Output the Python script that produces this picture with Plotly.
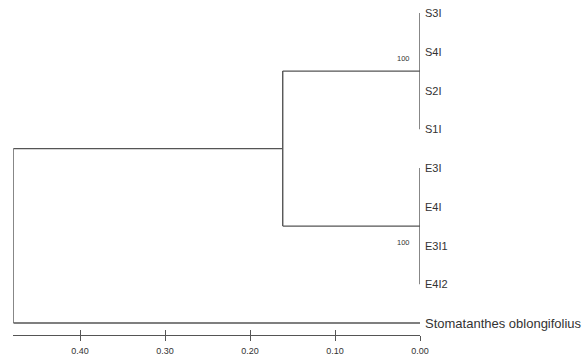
import plotly.graph_objects as go

# ---- data ----
leaf_labels = ["S3I", "S4I", "S2I", "S1I", "E3I", "E4I", "E3I1", "E4I2",
               "Stomatanthes oblongifolius"]
s_clade = [0, 1, 2, 3]          # leaf indices
e_clade = [4, 5, 6, 7]
outgroup = 8
s_node_height = 0.0
e_node_height = 0.0
ingroup_height = 0.1615
root_height = 0.4785
bootstrap_values = [100, 100]   # S clade, E clade
scale_ticks = [0.40, 0.30, 0.20, 0.10, 0.00]

LINE = "#555555"
TEXT = "#333333"
FONT = "Liberation Sans, Arial, sans-serif"

W, H = 587, 360
x_left_px, x_zero_px = 13.3, 420.0
y_first_px, y_step_px = 13.0, 38.75
axis_y_px = 335.0

# ---- build tree segments ----
s_mid = sum(s_clade) / len(s_clade)
e_mid = sum(e_clade) / len(e_clade)
in_mid = (s_mid + e_mid) / 2

segs = [
    ((s_node_height, s_clade[0]), (s_node_height, s_clade[-1])),
    ((e_node_height, e_clade[0]), (e_node_height, e_clade[-1])),
    ((s_node_height, s_mid), (ingroup_height, s_mid)),
    ((e_node_height, e_mid), (ingroup_height, e_mid)),
    ((ingroup_height, s_mid), (ingroup_height, e_mid)),
    ((ingroup_height, in_mid), (root_height, in_mid)),
    ((0.0, outgroup), (root_height, outgroup)),
    ((root_height, in_mid), (root_height, outgroup)),
]
xs, ys = [], []
for (x0, y0), (x1, y1) in segs:
    xs += [x0, x1, None]
    ys += [y0, y1, None]

fig = go.Figure()
fig.add_trace(go.Scatter(x=xs, y=ys, mode="lines",
                         line=dict(color=LINE, width=1.4),
                         hoverinfo="skip", showlegend=False, cliponaxis=False))

# leaf labels
for i, lab in enumerate(leaf_labels):
    size = 13 if i == outgroup else 11
    fig.add_annotation(x=0.0, y=i, xref="x", yref="y", text=lab,
                       showarrow=False, xanchor="left", yanchor="middle",
                       xshift=3, font=dict(family=FONT, size=size, color=TEXT))

# bootstrap labels
fig.add_annotation(x=s_node_height, y=s_mid, xref="x", yref="y",
                   text=str(bootstrap_values[0]), showarrow=False,
                   xanchor="right", yanchor="middle", xshift=-8, yshift=13,
                   font=dict(family=FONT, size=7.5, color=TEXT))
fig.add_annotation(x=e_node_height, y=e_mid, xref="x", yref="y",
                   text=str(bootstrap_values[1]), showarrow=False,
                   xanchor="right", yanchor="middle", xshift=-8, yshift=-16,
                   font=dict(family=FONT, size=7.5, color=TEXT))

# ---- axes (scale bar) ----
dom = [x_left_px / W, x_zero_px / W]
y_dom_bottom = 1 - axis_y_px / H
y_top = -y_first_px / y_step_px
y_bot = (axis_y_px - y_first_px) / y_step_px

common = dict(domain=dom, range=[root_height, 0.0], showgrid=False,
              zeroline=False, showline=True, linecolor=LINE, linewidth=1.4,
              tickvals=scale_ticks, tickcolor=LINE, tickwidth=1.4,
              anchor="y", side="bottom", fixedrange=True, automargin=False)

fig.update_layout(
    width=W, height=H, autosize=False,
    margin=dict(l=0, r=0, t=0, b=0, pad=0),
    paper_bgcolor="white", plot_bgcolor="white",
    xaxis=dict(**common, ticks="outside", ticklen=4.5,
               tickformat=".2f", ticklabelstandoff=2,
               tickfont=dict(family=FONT, size=9, color=TEXT)),
    xaxis2=dict(**common, overlaying="x", ticks="inside", ticklen=4.5,
                showticklabels=False),
    yaxis=dict(range=[y_bot, y_top], domain=[y_dom_bottom, 1], visible=False,
               fixedrange=True, automargin=False),
)
# empty trace so the overlaid scale axis (upward tick halves) is drawn
fig.add_trace(go.Scatter(x=[0.2], y=[None], xaxis="x2", yaxis="y",
                         showlegend=False, hoverinfo="skip"))

fig.write_html("out.html",
               config={"displayModeBar": False, "responsive": False},
               post_script="document.body.style.margin='0';")
